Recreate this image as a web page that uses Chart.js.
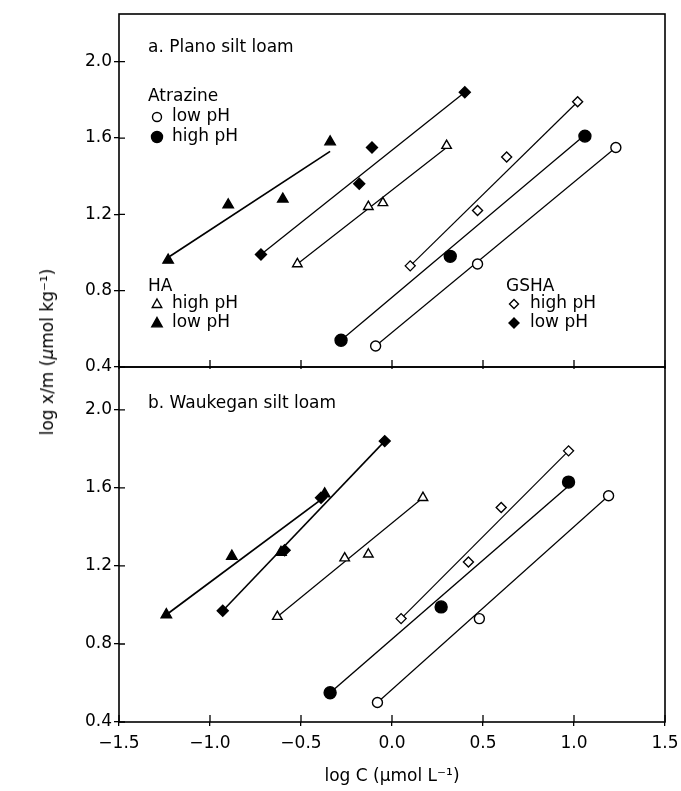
<!DOCTYPE html>
<html>
<head>
<meta charset="utf-8">
<script src="https://cdn.jsdelivr.net/npm/chart.js@4.4.1/dist/chart.umd.min.js"></script>
<style>
  body { margin: 0; background: #fff; }
  #wrap { position: relative; width: 681px; height: 791px; }
  #cTop { position: absolute; left: 0; top: 0; }
  #cBot { position: absolute; left: 0; top: 360px; }
  #ytitle {
    position: absolute; left: 47px; top: 352px;
    transform: translate(-50%, -50%) rotate(-90deg);
    font-family: 'DejaVu Sans', sans-serif; font-size: 17px; color: #000;
    white-space: nowrap;
  }
</style>
</head>
<body>
<div id="wrap">
  <canvas id="cTop" width="681" height="382"></canvas>
  <canvas id="cBot" width="681" height="431"></canvas>
  <div id="ytitle">log x/m (<i>μ</i>mol kg⁻¹)</div>
</div>
<script>
// tick values
var xTicks = [-1.5, -1.0, -0.5, 0.0, 0.5, 1.0, 1.5];
var yTicks = [0.4, 0.8, 1.2, 1.6, 2.0];

// a. Plano silt loam
var planoAtrLowX = [-0.09, 0.47, 1.23];
var planoAtrLowY = [0.51, 0.94, 1.55];
var planoAtrHighX = [-0.28, 0.32, 1.06];
var planoAtrHighY = [0.54, 0.98, 1.61];
var planoHaHighX = [-0.52, -0.13, -0.05, 0.30];
var planoHaHighY = [0.94, 1.24, 1.26, 1.56];
var planoHaLowX = [-1.23, -0.90, -0.60, -0.34];
var planoHaLowY = [0.96, 1.25, 1.28, 1.58];
var planoGsHighX = [0.10, 0.47, 0.63, 1.02];
var planoGsHighY = [0.93, 1.22, 1.50, 1.79];
var planoGsLowX = [-0.72, -0.18, -0.11, 0.40];
var planoGsLowY = [0.99, 1.36, 1.55, 1.84];
// fitted lines (end points)
var planoFitAtrLowX = [-0.09, 1.23], planoFitAtrLowY = [0.51, 1.55];
var planoFitAtrHighX = [-0.28, 1.04], planoFitAtrHighY = [0.54, 1.60];
var planoFitHaHighX = [-0.52, 0.30], planoFitHaHighY = [0.94, 1.55];
var planoFitHaLowX = [-1.22, -0.34], planoFitHaLowY = [0.98, 1.53];
var planoFitGsHighX = [0.10, 1.02], planoFitGsHighY = [0.93, 1.79];
var planoFitGsLowX = [-0.72, 0.40], planoFitGsLowY = [0.99, 1.84];

// b. Waukegan silt loam
var waukAtrLowX = [-0.08, 0.48, 1.19];
var waukAtrLowY = [0.50, 0.93, 1.56];
var waukAtrHighX = [-0.34, 0.27, 0.97];
var waukAtrHighY = [0.55, 0.99, 1.63];
var waukHaHighX = [-0.63, -0.26, -0.13, 0.17];
var waukHaHighY = [0.94, 1.24, 1.26, 1.55];
var waukHaLowX = [-1.24, -0.88, -0.61, -0.37];
var waukHaLowY = [0.95, 1.25, 1.27, 1.57];
var waukGsHighX = [0.05, 0.42, 0.60, 0.97];
var waukGsHighY = [0.93, 1.22, 1.50, 1.79];
var waukGsLowX = [-0.93, -0.59, -0.39, -0.04];
var waukGsLowY = [0.97, 1.28, 1.55, 1.84];
var waukFitAtrLowX = [-0.08, 1.19], waukFitAtrLowY = [0.50, 1.56];
var waukFitAtrHighX = [-0.34, 0.97], waukFitAtrHighY = [0.55, 1.61];
var waukFitHaHighX = [-0.63, 0.17], waukFitHaHighY = [0.94, 1.55];
var waukFitHaLowX = [-1.24, -0.39], waukFitHaLowY = [0.95, 1.54];
var waukFitGsHighX = [0.05, 0.97], waukFitGsHighY = [0.93, 1.79];
var waukFitGsLowX = [-0.93, -0.04], waukFitGsLowY = [0.97, 1.84];

Chart.defaults.font.family = "'DejaVu Sans', sans-serif";
Chart.defaults.font.size = 17;
Chart.defaults.color = '#000';

function pts(xs, ys) {
  return xs.map(function(x, i) { return {x: x, y: ys[i]}; });
}

var markers = {
  openCircle:  {pointStyle: 'circle',   radius: 5,   fill: '#fff'},
  fullCircle:  {pointStyle: 'circle',   radius: 6,   fill: '#000'},
  openTri:     {pointStyle: 'triangle', radius: 5.5, fill: '#fff'},
  fullTri:     {pointStyle: 'triangle', radius: 6,   fill: '#000'},
  openDiamond: {pointStyle: 'rectRot',  radius: 5,   fill: '#fff'},
  fullDiamond: {pointStyle: 'rectRot',  radius: 5.5, fill: '#000'}
};

function markerSet(xs, ys, m) {
  var st = markers[m];
  return {
    data: pts(xs, ys), showLine: false, order: 0,
    pointStyle: st.pointStyle, pointRadius: st.radius, pointHoverRadius: st.radius,
    pointBackgroundColor: st.fill, pointBorderColor: '#000', pointBorderWidth: 1.4
  };
}
function fitSet(xs, ys, w) {
  return {
    data: pts(xs, ys), showLine: true, order: 1,
    borderColor: '#000', borderWidth: w, pointRadius: 0, fill: false
  };
}

function fmt(v) {
  var s = Math.abs(v).toFixed(1);
  return v < 0 ? '\u2212' + s : s;
}

function noPad(s) {
  s.paddingLeft = 0; s.paddingRight = 0; s.paddingTop = 0; s.paddingBottom = 0;
}

// frame, inner ticks and in-panel text
var panelPlugin = {
  id: 'panel',
  afterDraw: function(chart, args, opts) {
    var ctx = chart.ctx, a = chart.chartArea;
    var xs = chart.scales.x, ys = chart.scales.y;
    ctx.save();
    ctx.strokeStyle = '#000';
    ctx.lineWidth = 1.6;
    ctx.strokeRect(a.left, a.top, a.right - a.left, a.bottom - a.top);
    ctx.lineWidth = 1.3;
    ctx.beginPath();
    xTicks.forEach(function(v) {
      var px = xs.getPixelForValue(v);
      ctx.moveTo(px, a.bottom + (opts.xCross || 0));
      ctx.lineTo(px, a.bottom - 7);
    });
    yTicks.forEach(function(v) {
      var py = ys.getPixelForValue(v);
      ctx.moveTo(a.left, py);
      ctx.lineTo(a.left + 6, py);
    });
    ctx.stroke();

    ctx.font = "17px 'DejaVu Sans', sans-serif";
    ctx.fillStyle = '#000';
    ctx.textBaseline = 'middle';
    (opts.items || []).forEach(function(it) {
      var x = a.left + it.dx, y = a.top + it.dy;
      if (it.marker) {
        var st = markers[it.marker];
        ctx.save();
        ctx.fillStyle = st.fill;
        ctx.lineWidth = 1.4;
        ctx.beginPath();
        var r = st.radius - 0.5;
        if (st.pointStyle === 'circle') {
          ctx.arc(x, y, r, 0, Math.PI * 2);
        } else if (st.pointStyle === 'triangle') {
          ctx.moveTo(x, y - r);
          ctx.lineTo(x + r * 0.95, y + r * 0.7);
          ctx.lineTo(x - r * 0.95, y + r * 0.7);
          ctx.closePath();
        } else {
          ctx.moveTo(x, y - r); ctx.lineTo(x + r, y);
          ctx.lineTo(x, y + r); ctx.lineTo(x - r, y);
          ctx.closePath();
        }
        ctx.fill();
        ctx.stroke();
        ctx.restore();
      } else {
        ctx.fillText(it.text, x, y);
      }
    });
    ctx.restore();
  }
};

function makeScales(bottom, yMax) {
  return {
    x: {
      type: 'linear', min: -1.5, max: 1.5,
      afterBuildTicks: function(s) { s.ticks = xTicks.map(function(v) { return {value: v}; }); },
      afterFit: function(s) {
        s.height = bottom ? 69 : 15;
        noPad(s);
      },
      ticks: {display: bottom, callback: fmt, padding: 7, maxRotation: 0, autoSkip: false},
      grid: {drawOnChartArea: false, drawTicks: bottom, tickLength: 4, color: '#000', lineWidth: 1.3},
      border: {display: false},
      title: {display: bottom, text: 'log C (\u03bcmol L\u207b\u00b9)', padding: {top: 0, bottom: 4}}
    },
    y: {
      type: 'linear', min: 0.4, max: yMax,
      afterBuildTicks: function(s) { s.ticks = yTicks.map(function(v) { return {value: v}; }); },
      afterFit: function(s) {
        s.width = 119;
        noPad(s);
      },
      ticks: {callback: function(v) { return v.toFixed(1); }, padding: 2},
      grid: {drawOnChartArea: false, tickLength: 5, color: '#000', lineWidth: 1.3},
      border: {display: false}
    }
  };
}

new Chart('cTop', {
  type: 'scatter',
  data: {
    datasets: [
      markerSet(planoAtrLowX, planoAtrLowY, 'openCircle'),
      markerSet(planoAtrHighX, planoAtrHighY, 'fullCircle'),
      markerSet(planoHaHighX, planoHaHighY, 'openTri'),
      markerSet(planoHaLowX, planoHaLowY, 'fullTri'),
      markerSet(planoGsHighX, planoGsHighY, 'openDiamond'),
      markerSet(planoGsLowX, planoGsLowY, 'fullDiamond'),
      fitSet(planoFitAtrLowX, planoFitAtrLowY, 1.2),
      fitSet(planoFitAtrHighX, planoFitAtrHighY, 1.3),
      fitSet(planoFitHaHighX, planoFitHaHighY, 1.2),
      fitSet(planoFitHaLowX, planoFitHaLowY, 1.7),
      fitSet(planoFitGsHighX, planoFitGsHighY, 1.2),
      fitSet(planoFitGsLowX, planoFitGsLowY, 1.3)
    ]
  },
  options: {
    responsive: false, animation: false, devicePixelRatio: 1,
    layout: {autoPadding: false, padding: {top: 14, right: 16, bottom: 0, left: 0}},
    scales: makeScales(false, 2.25),
    plugins: {
      legend: {display: false}, tooltip: {enabled: false},
      panel: {
        xCross: 2,
        items: [
          {text: 'a. Plano silt loam', dx: 29, dy: 34},
          {text: 'Atrazine', dx: 29, dy: 83},
          {marker: 'openCircle', dx: 38, dy: 103}, {text: 'low pH', dx: 53, dy: 103},
          {marker: 'fullCircle', dx: 38, dy: 123}, {text: 'high pH', dx: 53, dy: 123},
          {text: 'HA', dx: 29, dy: 273},
          {marker: 'openTri', dx: 38, dy: 290}, {text: 'high pH', dx: 53, dy: 290},
          {marker: 'fullTri', dx: 38, dy: 309}, {text: 'low pH', dx: 53, dy: 309},
          {text: 'GSHA', dx: 387, dy: 273},
          {marker: 'openDiamond', dx: 395, dy: 290}, {text: 'high pH', dx: 411, dy: 290},
          {marker: 'fullDiamond', dx: 395, dy: 309}, {text: 'low pH', dx: 411, dy: 309}
        ]
      }
    }
  },
  plugins: [panelPlugin]
});

new Chart('cBot', {
  type: 'scatter',
  data: {
    datasets: [
      markerSet(waukAtrLowX, waukAtrLowY, 'openCircle'),
      markerSet(waukAtrHighX, waukAtrHighY, 'fullCircle'),
      markerSet(waukHaHighX, waukHaHighY, 'openTri'),
      markerSet(waukHaLowX, waukHaLowY, 'fullTri'),
      markerSet(waukGsHighX, waukGsHighY, 'openDiamond'),
      markerSet(waukGsLowX, waukGsLowY, 'fullDiamond'),
      fitSet(waukFitAtrLowX, waukFitAtrLowY, 1.2),
      fitSet(waukFitAtrHighX, waukFitAtrHighY, 1.4),
      fitSet(waukFitHaHighX, waukFitHaHighY, 1.2),
      fitSet(waukFitHaLowX, waukFitHaLowY, 1.8),
      fitSet(waukFitGsHighX, waukFitGsHighY, 1.2),
      fitSet(waukFitGsLowX, waukFitGsLowY, 1.6)
    ]
  },
  options: {
    responsive: false, animation: false, devicePixelRatio: 1,
    layout: {autoPadding: false, padding: {top: 7, right: 16, bottom: 0, left: 0}},
    scales: makeScales(true, 2.22),
    plugins: {
      legend: {display: false}, tooltip: {enabled: false},
      panel: {
        xCross: 0,
        items: [
          {text: 'b. Waukegan silt loam', dx: 29, dy: 37}
        ]
      }
    }
  },
  plugins: [panelPlugin]
});
</script>
</body>
</html>
